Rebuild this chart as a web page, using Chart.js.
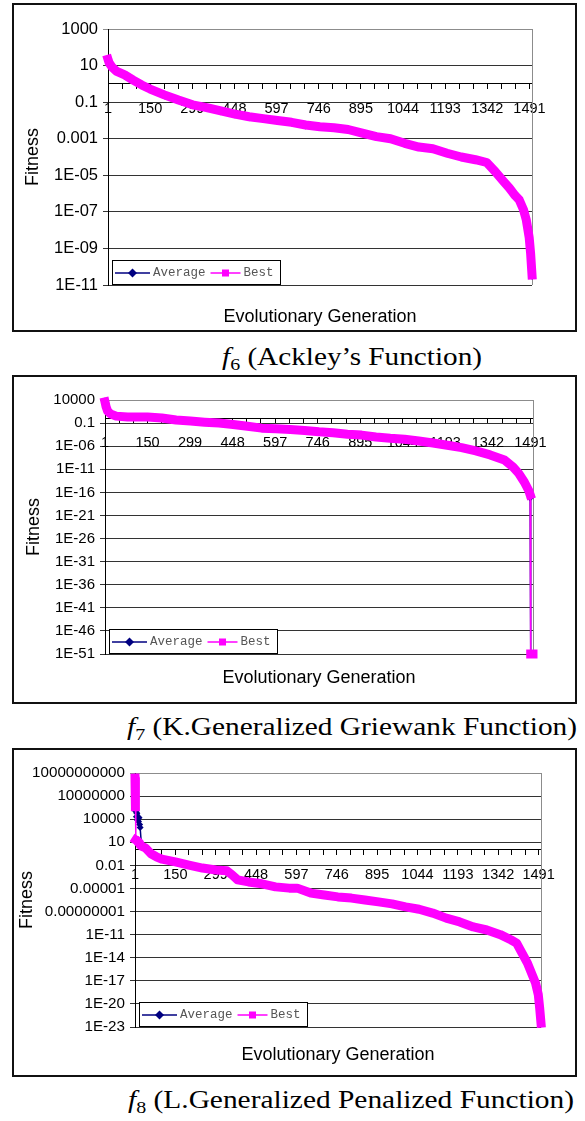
<!DOCTYPE html>
<html>
<head>
<meta charset="utf-8">
<script src="https://cdn.jsdelivr.net/npm/chart.js@4.4.1/dist/chart.umd.min.js"></script>
<style>
    html, body { margin: 0; padding: 0; background: #fff; }
    body { position: relative; width: 585px; height: 1121px; overflow: hidden; }
    .box { position: absolute; left: 12px; width: 565px; height: 329px; border: 2px solid #111; box-sizing: border-box; background: #fff; }
    .box canvas { position: absolute; left: 0; top: 0; }
    .cap { position: absolute; font-family: "Liberation Serif", serif; font-size: 25px; line-height: 25px; white-space: nowrap; transform-origin: 0 0; color: #000; }
    .cap sub { font-size: 17px; vertical-align: -5px; line-height: 0; }
</style>
</head>
<body>
<div class="box" style="top:3px"><canvas id="f6Chart" width="561" height="325"></canvas></div>
<div class="cap" id="cap6" data-w="260" style="left:222px; top:344px"><i>f</i><sub>6</sub> (Ackley’s Function)</div>

<div class="box" style="top:375px"><canvas id="f7Chart" width="561" height="325"></canvas></div>
<div class="cap" id="cap7" data-w="450" style="left:127px; top:714px"><i>f</i><sub>7</sub> (K.Generalized Griewank Function)</div>

<div class="box" style="top:748px"><canvas id="f8Chart" width="561" height="325"></canvas></div>
<div class="cap" id="cap8" data-w="446" style="left:128px; top:1087px"><i>f</i><sub>8</sub> (L.Generalized Penalized Function)</div>

<script>
// x axis labels (every 149 generations)
const xTickLabels = ['1', '150', '299', '448', '597', '746', '895', '1044', '1193', '1342', '1491'];

// f6 - Ackley
const gens6 = [1, 5, 15, 30, 60, 90, 120, 150, 200, 250, 300, 350, 400, 450, 500, 550, 600, 650, 700, 750, 800, 850, 900, 950, 1000, 1050, 1100, 1150, 1200, 1250, 1300, 1340, 1370, 1400, 1420, 1440, 1455, 1470, 1480, 1490, 1495, 1500];
const best6 = [22, 14, 8.3, 5.0, 3.1, 1.6, 0.87, 0.52, 0.25, 0.13, 0.071, 0.05, 0.033, 0.022, 0.016, 0.0126, 0.01, 0.0079, 0.0056, 0.0045, 0.004, 0.0032, 0.002, 0.0013, 0.001, 5.6e-4, 3.5e-4, 2.8e-4, 1.6e-4, 1.0e-4, 7.1e-5, 5.0e-5, 1.6e-5, 4.5e-6, 2.0e-6, 7.9e-7, 4.5e-7, 1.3e-7, 3.5e-8, 4.0e-9, 5.6e-10, 3.5e-11];
const avg6 = [21, 12, 7.6, 4.6, 2.9, 1.5, 0.8, 0.47, 0.22, 0.12, 0.065, 0.045, 0.030, 0.020, 0.014, 0.0115, 0.0088, 0.0072, 0.0050, 0.0041, 0.0036, 0.0029, 0.0018, 0.0012, 0.0009, 5.0e-4, 3.2e-4, 2.5e-4, 1.45e-4, 9.0e-5, 6.3e-5, 4.4e-5, 1.4e-5, 4.0e-6, 1.7e-6, 7.0e-7, 4.0e-7, 1.1e-7, 3.0e-8, 3.3e-9, 4.5e-10, 3.0e-11];
const yTicks6 = [1e-11, 1e-9, 1e-7, 1e-5, 1e-3, 0.1, 10, 1000];
const yLabels6 = ['1E-11', '1E-09', '1E-07', '1E-05', '0.001', '0.1', '10', '1000'];

// f7 - Griewank
const gens7 = [1, 5, 10, 20, 40, 80, 150, 200, 250, 300, 350, 400, 450, 500, 550, 600, 650, 700, 750, 800, 850, 900, 950, 1000, 1050, 1100, 1150, 1200, 1250, 1300, 1350, 1400, 1430, 1450, 1470, 1485, 1490, 1492, 1496, 1500];
const best7 = [4000, 320, 40, 10, 3.2, 2.0, 2.0, 1.26, 0.45, 0.28, 0.16, 0.1, 0.05, 0.02, 0.008, 0.0063, 0.004, 0.0025, 0.0013, 8e-4, 4e-4, 2.5e-4, 1e-4, 5e-5, 3.2e-5, 1.3e-5, 5e-6, 1.6e-6, 5e-7, 1e-7, 1.3e-8, 1e-9, 3.2e-11, 1.3e-12, 1.6e-14, 2.5e-16, 3e-17, 1e-51, 1e-51, 1e-51];
const avg7 = [6000, 400, 50, 12, 3.6, 2.2, 1.8, 1.1, 0.4, 0.25, 0.14, 0.09, 0.045, 0.018, 0.007, 0.0055, 0.0035, 0.0022, 0.0011, 7e-4, 3.5e-4, 2.2e-4, 9e-5, 4.4e-5, 2.8e-5, 1.1e-5, 4.4e-6, 1.4e-6, 4.4e-7, 8.8e-8, 1.1e-8, 8.5e-10, 2.8e-11, 1.1e-12, 1.3e-14, 2e-16, 6e-18, 1e-51, 1e-51, 1e-51];
const yTicks7 = [1e-51, 1e-46, 1e-41, 1e-36, 1e-31, 1e-26, 1e-21, 1e-16, 1e-11, 1e-6, 0.1, 1e4];
const yLabels7 = ['1E-51', '1E-46', '1E-41', '1E-36', '1E-31', '1E-26', '1E-21', '1E-16', '1E-11', '1E-06', '0.1', '10000'];

// f8 - Penalized
const gens8 = [1, 2, 3, 4, 6, 8, 10, 12, 14, 16, 18, 20, 25, 40, 60, 80, 100, 150, 200, 250, 300, 340, 360, 380, 420, 470, 520, 570, 600, 650, 700, 750, 800, 850, 900, 950, 1000, 1050, 1100, 1150, 1200, 1250, 1300, 1350, 1390, 1410, 1430, 1450, 1465, 1480, 1490, 1495, 1500];
const best8 = [2.2e9, 6.3e7, 4e5, 20, 18, 16, 12.6, 10, 9, 8, 6.3, 4.5, 3.2, 1.8, 0.32, 0.13, 0.063, 0.028, 0.011, 0.0045, 0.0025, 0.002, 5.6e-4, 1.3e-4, 7e-5, 4e-5, 1.6e-5, 1.1e-5, 1.1e-5, 2.5e-6, 1.4e-6, 8e-7, 5.6e-7, 3.2e-7, 1.8e-7, 1e-7, 4e-8, 2e-8, 6.3e-9, 1.4e-9, 4.5e-10, 1e-10, 4e-11, 1e-11, 2e-12, 8e-13, 4e-14, 2e-15, 1e-16, 5e-18, 1.6e-19, 3.2e-21, 3.2e-23];
const avg8 = [3e9, 2e8, 6e5, 1e5, 2e4, 6e4, 8e3, 2e4, 5e3, 1.5e4, 2e3, 8e2, 3.5, 2.0, 0.35, 0.14, 0.07, 0.03, 0.012, 0.005, 0.0027, 0.0021, 6e-4, 1.4e-4, 7.5e-5, 4.3e-5, 1.7e-5, 1.2e-5, 1.15e-5, 2.7e-6, 1.5e-6, 8.5e-7, 6e-7, 3.4e-7, 1.9e-7, 1.1e-7, 4.3e-8, 2.2e-8, 6.8e-9, 1.5e-9, 4.8e-10, 1.1e-10, 4.3e-11, 1.1e-11, 2.2e-12, 9e-13, 4.4e-14, 2.2e-15, 1.1e-16, 5.5e-18, 1.8e-19, 3.5e-21, 2.5e-23];
const yTicks8 = [1e-23, 1e-20, 1e-17, 1e-14, 1e-11, 1e-8, 1e-5, 0.01, 10, 1e4, 1e7, 1e10];
const yLabels8 = ['1E-23', '1E-20', '1E-17', '1E-14', '1E-11', '0.00000001', '0.00001', '0.01', '10', '10000', '10000000', '10000000000'];

const NAVY = '#000080';
const MAGENTA = '#ff00ff';
const SANS = '"Liberation Sans", Arial, sans-serif';

// Excel-like legend box sitting in the bottom-left corner of the plot
const boxLegend = {
    id: 'boxLegend',
    afterDraw(chart) {
        const a = chart.chartArea, ctx = chart.ctx;
        const w = 168, h = 24;
        const x = Math.round(a.left) + 4, y = Math.round(a.bottom) - 1 - h;
        ctx.save();
        ctx.fillStyle = '#fff';
        ctx.fillRect(x, y, w, h);
        ctx.strokeStyle = '#000';
        ctx.lineWidth = 1;
        ctx.strokeRect(x + 0.5, y + 0.5, w, h);
        const cy = y + h / 2 + 1;
        ctx.font = '12.5px "Liberation Mono", "Courier New", monospace';
        ctx.textBaseline = 'middle';
        let cx = x + 3;
        chart.data.datasets.forEach(ds => {
            const len = ds.pointStyle === 'rect' ? 30 : 35;
            ctx.strokeStyle = ds.borderColor;
            ctx.lineWidth = 1.5;
            ctx.beginPath();
            ctx.moveTo(cx, cy);
            ctx.lineTo(cx + len, cy);
            ctx.stroke();
            ctx.fillStyle = ds.borderColor;
            const mx = cx + len / 2;
            if (ds.pointStyle === 'rect') {
                ctx.fillRect(mx - 3.5, cy - 3.5, 7, 7);
            } else {
                ctx.beginPath();
                ctx.moveTo(mx, cy - 4.5);
                ctx.lineTo(mx + 4.5, cy);
                ctx.lineTo(mx, cy + 4.5);
                ctx.lineTo(mx - 4.5, cy);
                ctx.closePath();
                ctx.fill();
            }
            ctx.fillStyle = '#555';
            ctx.fillText(ds.label, cx + len + 3, cy);
            cx += len + 3 + ctx.measureText(ds.label).width + 5;
        });
        ctx.restore();
    }
};

// grey plot-area border on the right
const plotBorder = {
    id: 'plotBorder',
    beforeDatasetsDraw(chart) {
        const a = chart.chartArea, ctx = chart.ctx;
        const r = Math.round(a.right) + 0.5;
        ctx.save();
        ctx.strokeStyle = '#8c8c8c';
        ctx.lineWidth = 1;
        ctx.beginPath();
        ctx.moveTo(r, a.top);
        ctx.lineTo(r, a.bottom);
        ctx.stroke();
        ctx.restore();
    }
};

function drawFitness(id, d) {
    const ctx = document.getElementById(id);
    const pts = (ys) => d.gens.map((g, i) => ({ x: g, y: ys[i] }));
    return new Chart(ctx, {
        type: 'line',
        data: {
            datasets: [{
                label: 'Average',
                data: pts(d.avg),
                borderColor: NAVY,
                backgroundColor: NAVY,
                borderWidth: 1.5,
                pointStyle: 'rectRot',
                pointRadius: 3.5,
                pointBorderWidth: 0,
                order: 1,
                clip: false
            }, {
                label: 'Best',
                data: pts(d.best),
                borderColor: MAGENTA,
                backgroundColor: MAGENTA,
                borderWidth: 9,
                borderCapStyle: 'square',
                borderJoinStyle: 'round',
                pointStyle: 'rect',
                pointRadius: 0,
                order: 0,
                clip: false,
                segment: {
                    // a huge jump is drawn as a thin connector, as in the original
                    borderWidth: s => Math.abs(Math.log10(s.p0.parsed.y) - Math.log10(s.p1.parsed.y)) > 3 ? 1.5 : 9
                }
            }]
        },
        options: {
            responsive: false,
            animation: false,
            layout: { padding: { left: 0, top: d.padTop, right: d.padRight, bottom: 0 } },
            plugins: {
                legend: { display: false },
                tooltip: { enabled: false },
                title: {
                    display: true,
                    text: 'Evolutionary Generation',
                    position: 'bottom',
                    fullSize: false,
                    color: '#000',
                    font: { family: SANS, size: 18, weight: 'normal', lineHeight: 1.2 },
                    padding: { top: d.titleTop, bottom: d.titleBottom }
                }
            },
            scales: {
                x: {
                    type: 'linear',
                    position: { y: 1 },
                    min: 1,
                    max: 1500,
                    afterBuildTicks: s => {
                        const t = [];
                        for (let k = 0; k <= 30; k++) t.push({ value: 1 + k * 149 / 3 });
                        s.ticks = t;
                    },
                    afterFit: s => { s.height = 0; },
                    grid: { display: true, drawOnChartArea: false, drawTicks: true, tickLength: 5, color: '#000' },
                    border: { display: true, color: '#000', width: 1 },
                    ticks: {
                        autoSkip: false,
                        maxRotation: 0,
                        padding: 11,
                        color: '#000',
                        font: { family: SANS, size: 14.5 },
                        callback: (v, i) => (i % 3 === 0 ? xTickLabels[i / 3] : '')
                    }
                },
                y: {
                    type: 'logarithmic',
                    min: d.yTicks[0],
                    max: d.yTicks[d.yTicks.length - 1],
                    afterBuildTicks: s => { s.ticks = d.yTicks.map(v => ({ value: v })); },
                    afterFit: s => { s.width = d.axisWidth; },
                    grid: {
                        color: c => (c.index === d.yTicks.length - 1 ? '#8c8c8c' : '#333'),
                        tickLength: 5,
                        lineWidth: 1
                    },
                    border: { display: true, color: '#000', width: 1 },
                    ticks: {
                        padding: 5,
                        color: '#000',
                        font: { family: SANS, size: d.yFont },
                        callback: (v, i) => d.yLabels[i]
                    },
                    title: {
                        display: true,
                        text: 'Fitness',
                        color: '#000',
                        font: { family: SANS, size: 18, weight: 'normal', lineHeight: 1.2 },
                        padding: { top: d.fitPad, bottom: 0 }
                    }
                }
            }
        },
        plugins: [plotBorder, boxLegend]
    });
}

drawFitness('f6Chart', {
    gens: gens6, avg: avg6, best: best6, yTicks: yTicks6, yLabels: yLabels6, yFont: 16.5,
    axisWidth: 94, padTop: 24, padRight: 43, titleTop: 21.2, titleBottom: 2.2, fitPad: 8
});
drawFitness('f7Chart', {
    gens: gens7, avg: avg7, best: best7, yTicks: yTicks7, yLabels: yLabels7, yFont: 15,
    axisWidth: 91, padTop: 23, padRight: 42, titleTop: 13.2, titleBottom: 13.2, fitPad: 9
});
drawFitness('f8Chart', {
    gens: gens8, avg: avg8, best: best8, yTicks: yTicks8, yLabels: yLabels8, yFont: 15.2,
    axisWidth: 121, padTop: 23, padRight: 34, titleTop: 17.2, titleBottom: 9.2, fitPad: 2
});

// stretch the serif captions to the width they take in the paper
document.querySelectorAll('.cap').forEach(el => {
    const w = el.getBoundingClientRect().width;
    el.style.transform = 'scaleX(' + (parseFloat(el.dataset.w) / w) + ')';
});
</script>
</body>
</html>
